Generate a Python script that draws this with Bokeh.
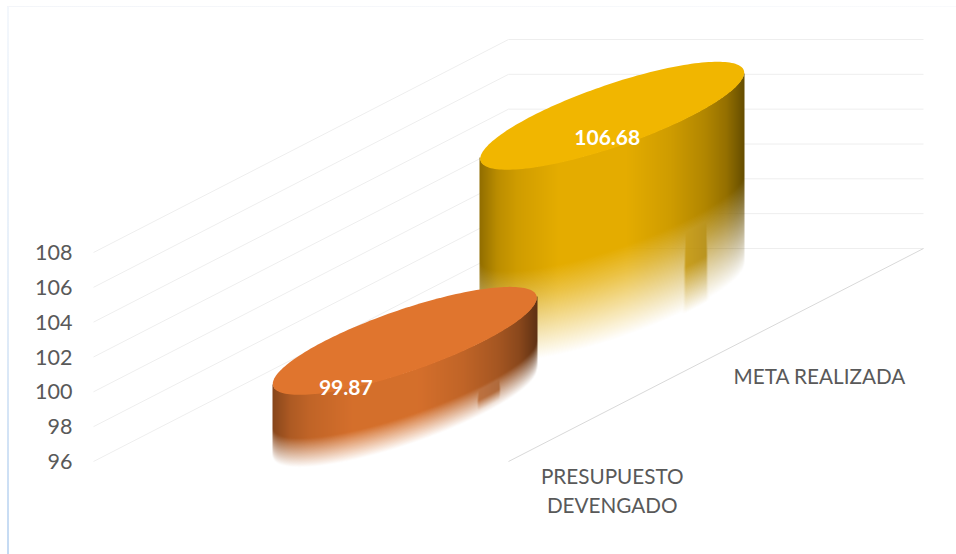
import numpy as np
from bokeh.plotting import figure
from bokeh.embed import file_html
from bokeh.resources import INLINE
from bokeh.models import FixedTicker
from bokeh.core.properties import value

categories = ["PRESUPUESTO\nDEVENGADO", "META REALIZADA"]
values = [99.87, 106.68]
value_labels = ["99.87", "106.68"]
ticks = [96, 98, 100, 102, 104, 106, 108]
top_colors = [(224, 117, 46), (241, 182, 0)]
fade_heights = [24, 84]
fade_overshoot = [5, 6]
grid_color = "#eeeeee"
floor_color = "#d9d9d9"
text_color = "#595959"

# projection geometry (screen px of an oblique 3D box)
PX_PER_UNIT = (461 - 252) / 12.0
Ax, Ay = 93.0, 461.0
DEPTH = 415.0          # horizontal vector of the floor
CATX, CATY = 415.0, 213.0  # slanted vector of the floor
RU, RW = 0.2535, 0.192  # column radii in floor fractions


def v_at_py(py):
    return 96 + (461 - py) / PX_PER_UNIT


def py_of_v(v):
    return 461 - (v - 96) * PX_PER_UNIT


def proj(u, w, v):
    """floor fraction u (categories), w (depth), value v -> x, y data coords"""
    x = Ax + u * CATX + w * DEPTH
    y = v + u * CATY / PX_PER_UNIT
    return x, y


p = figure(width=956, height=554, output_backend="svg", toolbar_location=None,
           x_range=(80, 956), y_range=(v_at_py(554), v_at_py(0)),
           min_border_left=80, min_border_right=0, min_border_top=0, min_border_bottom=0,
           outline_line_color=None, background_fill_color=None, border_fill_color=None,
           styles={
               "background-image": "linear-gradient(to bottom,#f3f7fc 0%,#e6eff9 50%,#c4daf3 100%),"
                                   "linear-gradient(to right,#f3f5f9,#f9fafc)",
               "background-size": "2px 547px,100% 1px",
               "background-position": "7px 7px,7px 6px",
               "background-repeat": "no-repeat",
           })
p.xaxis.visible = False
p.xgrid.visible = False
p.ygrid.visible = False
ax = p.yaxis[0]
ax.ticker = FixedTicker(ticks=ticks)
ax.axis_line_color = None
ax.major_tick_line_color = None
ax.minor_tick_line_color = None
ax.major_label_standoff = 2
ax.major_label_text_font = "Lato"
ax.major_label_text_font_size = "21.5px"
ax.major_label_text_color = text_color

# walls
for t in ticks:
    xa, ya = proj(0, 0, t)
    xb, yb = proj(1, 0, t)
    xc, yc = proj(1, 1, t)
    p.line([xa, xb, xc], [ya, yb, yc], line_color=grid_color, line_width=1)
# floor front edge
xd, yd = proj(0, 1, ticks[0])
xe, ye = proj(1, 1, ticks[0])
p.line([xd, xe], [yd, ye], line_color=floor_color, line_width=1)

theta = np.linspace(0, 2 * np.pi, 181)
shade_t = [0, .03, .07, .14, .3, .55, .72, .85, .93, 1]
shade_v = [.60, .68, .78, .86, .95, .95, .86, .74, .62, .42]


def smooth(a, b, x):
    return np.clip((x - a) / (b - a), 0, 1)


n = len(values)
order = list(range(n))[::-1]  # far column first
for i in order:
    u0 = (i + 0.5) / n
    v = values[i]
    color = np.array(top_colors[i], dtype=float)
    cx, cy_top = proj(u0, 0.5, v)
    pcy_top = py_of_v(cy_top)
    height_px = (v - 96) * PX_PER_UNIT
    pcy_base = pcy_top + height_px
    ex = np.hypot(RU * CATX, RW * DEPTH)
    ey = RU * CATY
    # side surface, pixel by pixel
    left = int(np.floor(cx - ex))
    right = int(np.ceil(cx + ex))
    ptop = int(np.floor(pcy_top - ey))
    pbot = int(np.ceil(pcy_base + ey + 14))
    W, H = right - left, pbot - ptop
    xs = left + np.arange(W) + .5
    rows = ptop + np.arange(H) + .5
    XX, YY = np.meshgrid(xs, rows)
    t = (xs - left) / W
    shade = np.interp(t, shade_t, shade_v)
    # front (lower) half of the ellipse at any x
    s = np.clip((xs - cx) / ex, -1, 1)
    ang = np.arcsin(s)
    slant = RU * CATX / ex
    offset = -ey * slant * s + ey * np.sqrt(1 - slant ** 2) * np.cos(ang)
    front_top = pcy_top + offset
    front_base = pcy_base + offset
    d = front_base[None, :] - YY
    fh = fade_heights[i]
    alpha = np.where(d > fh * .70, 1 - .26 * (1 - smooth(fh * .70, fh, d)),
                     .74 * smooth(-fade_overshoot[i], fh * .70, d))
    alpha = np.where(d >= fh, 1.0, alpha)
    # vertical band left by the reflection
    band = smooth(.76, .778, t) * (1 - smooth(.855, .872, t))
    band_alpha = .88 * smooth(-fh * .10, fh * .45, d)
    alpha = np.maximum(alpha, band[None, :] * band_alpha)
    alpha = np.where(YY < front_top[None, :] - 1, 0, alpha)
    rgba = np.zeros((H, W, 4), dtype=np.uint8)
    for k in range(3):
        rgba[:, :, k] = np.clip(color[k] * shade, 0, 255)[None, :]
    rgba[:, :, 3] = np.clip(alpha * 255, 0, 255)
    rgba32 = rgba.view(np.uint32).reshape(H, W)[::-1]
    p.image_rgba(image=[rgba32], x=left, y=v_at_py(pbot), dw=W, dh=v_at_py(ptop) - v_at_py(pbot))
    # top of the column
    ex_pts = cx + RU * CATX * np.cos(theta) + RW * DEPTH * np.sin(theta)
    ey_pts = v + (u0 * CATY + RU * CATY * np.cos(theta)) / PX_PER_UNIT
    p.patch(ex_pts, ey_pts, fill_color=tuple(int(c) for c in color), line_color=None)

# value labels
lab_dx = [-59, -5]
lab_dy = [-47, -22]
for i in range(n):
    u0 = (i + 0.5) / n
    x, y = proj(u0, 0.5, values[i])
    p.text([x + lab_dx[i]], [y + lab_dy[i] / PX_PER_UNIT], text=[value_labels[i]],
           text_color="white", text_font=value("Lato"), text_font_style="bold",
           text_font_size="21px", text_align="center", text_baseline="middle")

# category labels
cat_dy = [-82, -74]
for i in range(n):
    u0 = (i + 0.5) / n
    x, y = proj(u0, 1, ticks[0])
    p.text([x], [y + cat_dy[i] / PX_PER_UNIT], text=[categories[i]],
           text_color=text_color, text_font=value("Lato"),
           text_font_size="20.7px", text_align="center", text_baseline="middle",
           text_line_height=1.2)

open("out.html", "w").write(file_html(p, INLINE))
